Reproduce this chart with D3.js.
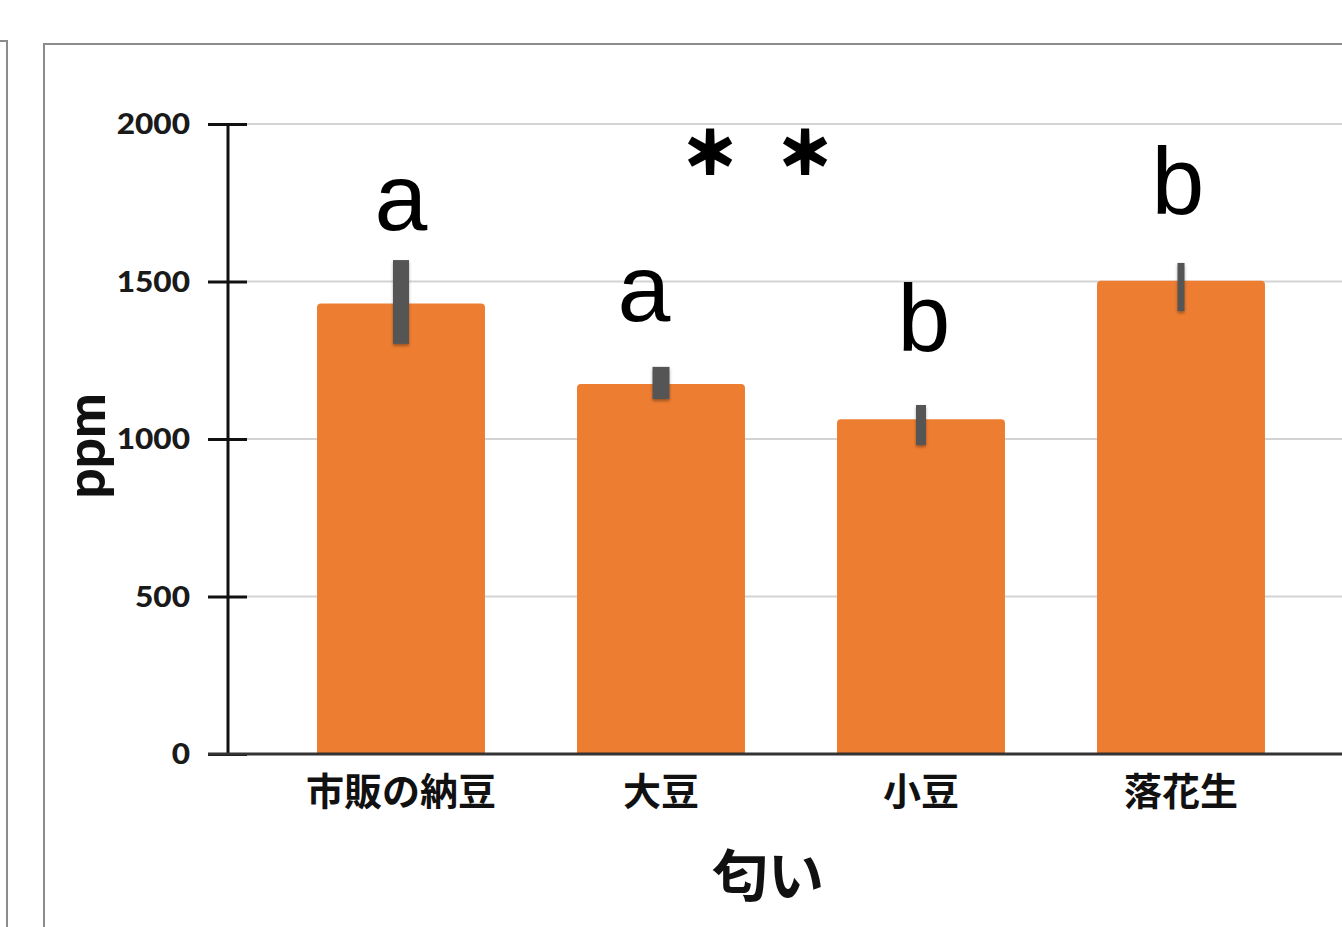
<!DOCTYPE html>
<html>
<head>
<meta charset="utf-8">
<script src="https://cdn.jsdelivr.net/npm/d3@7/dist/d3.min.js"></script>
<style>
  html, body { margin: 0; padding: 0; background: #fff; }
  svg { display: block; }
</style>
</head>
<body>
<svg id="chart" width="1342" height="927"></svg>
<script>
// ---- data ----
const categories = ["市販の納豆", "大豆", "小豆", "落花生"];
const values     = [1430, 1175, 1063, 1502];   // mean odor reading (ppm)
const errLow     = [1302, 1127, 981, 1406];    // lower end of error bar
const errHigh    = [1568, 1229, 1108, 1559];   // upper end of error bar
const groups     = ["a", "a", "b", "b"];       // significance letters
const yTicks     = [0, 500, 1000, 1500, 2000];
const yTitle     = "ppm";
const xTitle     = "匂い";
const sigMarks   = ["＊", "＊"];

// ---- layout / style ----
const W = 1342, H = 927;
const barColor = "#ED7D31";
const errColor = "#555555";
const errWidths = [16, 17, 10, 7];
// letter placement: horizontal nudge and baseline, in px
const letterDx = [0, -17, 3, -3];
const letterBaseline = [230, 321, 351, 214];
const sigX = [710, 805];

const svg = d3.select("#chart");

const defs = svg.append("defs");
const sh = defs.append("filter").attr("id", "errShadow")
  .attr("x", "-50%").attr("y", "-20%").attr("width", "200%").attr("height", "140%");
sh.append("feDropShadow").attr("dx", 0).attr("dy", 2).attr("stdDeviation", 1.5)
  .attr("flood-color", "#000").attr("flood-opacity", 0.35);

// panel frames
svg.append("path")
  .attr("d", `M0,41 H7 V${H}`)
  .attr("fill", "none").attr("stroke", "#8c8c8c").attr("stroke-width", 2);
svg.append("path")
  .attr("d", `M44,${H} V44 H${W}`)
  .attr("fill", "none").attr("stroke", "#8c8c8c").attr("stroke-width", 2);

// scales
const y = d3.scaleLinear().domain([0, 2000]).range([754, 124]);
const x = d3.scaleBand().domain(categories).range([271, 1311])
  .paddingInner(0.354).paddingOuter(0.177);

const axisX = 228;

// gridlines
svg.append("g").selectAll("line").data(yTicks.filter(d => d > 0)).join("line")
  .attr("x1", 247).attr("x2", W)
  .attr("y1", d => y(d)).attr("y2", d => y(d))
  .attr("stroke", "#d3d3d3").attr("stroke-width", 2);

// bars with slightly rounded top corners
function barPath(x0, w, yTop, yBase, r) {
  return `M${x0},${yBase} V${yTop + r} Q${x0},${yTop} ${x0 + r},${yTop} ` +
         `H${x0 + w - r} Q${x0 + w},${yTop} ${x0 + w},${yTop + r} V${yBase} Z`;
}
svg.append("g").selectAll("path").data(categories).join("path")
  .attr("d", (c, i) => barPath(x(c), x.bandwidth(), y(values[i]), y(0), 4))
  .attr("fill", barColor);

// y axis (ticks on both sides of the line)
const stretch = 1.13;
const yAxis = d3.axisLeft(y).tickValues(yTicks).tickSize(0).tickPadding(0)
  .tickFormat(d3.format("d"));
const gy = svg.append("g").attr("transform", `translate(${axisX},0)`).call(yAxis);
gy.select(".domain").remove();
gy.selectAll(".tick line").attr("x1", -20).attr("x2", 19)
  .attr("stroke", "#111").attr("stroke-width", 3);
gy.selectAll(".tick text")
  .attr("x", -38 / stretch).attr("dy", "0.35em")
  .attr("transform", `scale(${stretch},1)`)
  .attr("font-family", "Lato, sans-serif").attr("font-weight", 900)
  .attr("font-size", 28).attr("fill", "#1a1a1a").attr("text-anchor", "end");
svg.append("line")
  .attr("x1", axisX).attr("x2", axisX).attr("y1", y(2000)).attr("y2", y(0))
  .attr("stroke", "#111").attr("stroke-width", 3);

// x axis baseline + category labels
svg.append("line")
  .attr("x1", 208).attr("x2", W).attr("y1", y(0)).attr("y2", y(0))
  .attr("stroke", "#333").attr("stroke-width", 3);
const xAxis = d3.axisBottom(x).tickSize(0).tickPadding(0);
const gx = svg.append("g").attr("transform", `translate(0,${y(0)})`).call(xAxis);
gx.select(".domain").remove();
gx.selectAll(".tick text")
  .attr("y", 38).attr("dy", "0.35em")
  .attr("font-family", "'Noto Sans CJK JP', sans-serif").attr("font-weight", 700)
  .attr("font-size", 38).attr("fill", "#111");

// error bars drawn as solid blocks
svg.append("g").selectAll("rect").data(categories).join("rect")
  .attr("x", (c, i) => x(c) + x.bandwidth() / 2 - errWidths[i] / 2)
  .attr("width", (c, i) => errWidths[i])
  .attr("y", (c, i) => y(errHigh[i]))
  .attr("height", (c, i) => y(errLow[i]) - y(errHigh[i]))
  .attr("fill", errColor)
  .attr("filter", "url(#errShadow)");

// significance letters
svg.append("g").selectAll("text").data(categories).join("text")
  .attr("x", (c, i) => x(c) + x.bandwidth() / 2 + letterDx[i])
  .attr("y", (c, i) => letterBaseline[i])
  .attr("text-anchor", "middle")
  .attr("font-family", "'Liberation Sans', Arial, sans-serif")
  .attr("font-size", 95).attr("fill", "#000")
  .text((c, i) => groups[i]);

// overall significance mark (heavy asterisks)
svg.append("g").selectAll("text").data(sigMarks).join("text")
  .attr("x", (d, i) => sigX[i]).attr("y", 153).attr("dy", "0.35em")
  .attr("text-anchor", "middle")
  .attr("font-family", "'Noto Sans CJK JP', sans-serif").attr("font-weight", 900)
  .attr("font-size", 56).attr("fill", "#000")
  .attr("stroke", "#000").attr("stroke-width", 3).attr("stroke-linejoin", "miter")
  .text(d => d);

// axis titles
svg.append("text")
  .attr("transform", "translate(86,446) rotate(-90)")
  .attr("text-anchor", "middle").attr("dy", "0.35em")
  .attr("font-family", "Lato, sans-serif").attr("font-weight", 900)
  .attr("font-size", 53).attr("fill", "#111")
  .text(yTitle);
svg.append("text")
  .attr("x", 768).attr("y", 876).attr("dy", "0.35em")
  .attr("text-anchor", "middle")
  .attr("font-family", "'Noto Sans CJK JP', sans-serif").attr("font-weight", 700)
  .attr("font-size", 56).attr("fill", "#111")
  .text(xTitle);
</script>
</body>
</html>
